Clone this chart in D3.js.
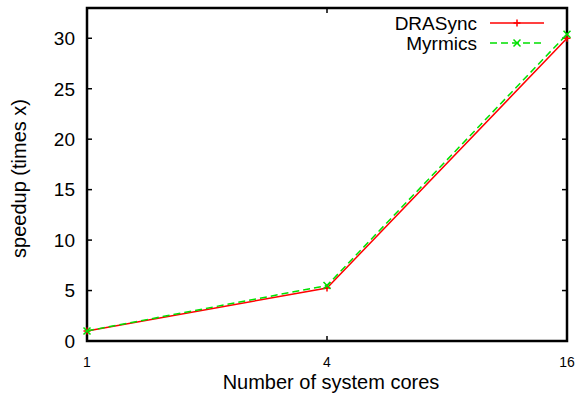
<!DOCTYPE html>
<html>
<head>
<meta charset="utf-8">
<script src="https://cdn.jsdelivr.net/npm/d3@7"></script>
<style>
  body { margin: 0; background: #fff; }
  text { font-family: "Liberation Sans", Arial, sans-serif; fill: #000; }
</style>
</head>
<body>
<div id="chart"></div>
<script>
// data
var cores = [1, 4, 16];
var drasync = [1, 5.25, 30.0];
var myrmics = [1, 5.5, 30.4];
var xTicks = [1, 4, 16];
var yTicks = [0, 5, 10, 15, 20, 25, 30];
var seriesNames = ["DRASync", "Myrmics"];

var width = 576, height = 405,
    margin = {top: 8, right: 9, bottom: 64, left: 87},
    tick_len = 5;

var svg = d3.select("#chart").append("svg")
    .attr("width", width)
    .attr("height", height);

var x = d3.scaleLog().base(2)
    .domain([1, 16])
    .range([margin.left, width - margin.right]);

var y = d3.scaleLinear()
    .domain([0, 33])
    .range([height - margin.bottom, margin.top]);

var x0 = x.range()[0], x1 = x.range()[1],
    y0 = y.range()[0], y1 = y.range()[1];

// y ticks, both sides, pointing inward
var yAxis = svg.append("g");
yTicks.forEach(function(v) {
    if (v > 0) {
        yAxis.append("line").attr("x1", x0).attr("x2", x0 + tick_len)
            .attr("y1", y(v)).attr("y2", y(v)).attr("stroke", "#000").attr("stroke-width", 1.5);
        yAxis.append("line").attr("x1", x1).attr("x2", x1 - tick_len)
            .attr("y1", y(v)).attr("y2", y(v)).attr("stroke", "#000").attr("stroke-width", 1.5);
    }
    yAxis.append("text")
        .attr("x", x0 - 12)
        .attr("y", y(v))
        .attr("dy", "0.36em")
        .attr("text-anchor", "end")
        .style("font-size", "19px")
        .text(v);
});

// x ticks, bottom and top
var xAxis = svg.append("g");
xTicks.forEach(function(v) {
    xAxis.append("line").attr("x1", x(v)).attr("x2", x(v))
        .attr("y1", y0).attr("y2", y0 - tick_len).attr("stroke", "#000").attr("stroke-width", 1.5);
    xAxis.append("line").attr("x1", x(v)).attr("x2", x(v))
        .attr("y1", y1).attr("y2", y1 + tick_len).attr("stroke", "#000").attr("stroke-width", 1.5);
    xAxis.append("text")
        .attr("x", x(v))
        .attr("y", 367)
        .attr("text-anchor", "middle")
        .style("font-size", "14px")
        .text(v);
});

// frame
svg.append("rect")
    .attr("x", x0).attr("y", y1)
    .attr("width", x1 - x0).attr("height", y0 - y1)
    .attr("fill", "none").attr("stroke", "#000").attr("stroke-width", 2.5);

// axis titles
svg.append("text")
    .attr("x", (x0 + x1) / 2 + 4)
    .attr("y", 389)
    .attr("text-anchor", "middle")
    .style("font-size", "20px")
    .text("Number of system cores");

svg.append("text")
    .attr("transform", "translate(26," + ((y0 + y1) / 2 + 4) + ") rotate(-90)")
    .attr("text-anchor", "middle")
    .style("font-size", "20px")
    .text("speedup (times x)");

// series
var series = [
    {name: seriesNames[0], values: drasync, color: "#ff0000", dash: null, mark: "plus"},
    {name: seriesNames[1], values: myrmics, color: "#00e000", dash: "7,4", mark: "cross"}
];

var line = d3.line()
    .x(function(d) { return x(d[0]); })
    .y(function(d) { return y(d[1]); });

function drawMark(g, mark, cx, cy, color) {
    var s = 3.5;
    if (mark === "plus") {
        g.append("path").attr("d", "M" + (cx - s) + "," + cy + "H" + (cx + s) + "M" + cx + "," + (cy - s) + "V" + (cy + s))
            .attr("stroke", color).attr("stroke-width", 1.5).attr("fill", "none");
    } else {
        g.append("path").attr("d", "M" + (cx - s) + "," + (cy - s) + "L" + (cx + s) + "," + (cy + s) +
                "M" + (cx - s) + "," + (cy + s) + "L" + (cx + s) + "," + (cy - s))
            .attr("stroke", color).attr("stroke-width", 1.5).attr("fill", "none");
    }
}

var legendY = [23, 43];

series.forEach(function(s, i) {
    var pts = cores.map(function(c, j) { return [c, s.values[j]]; });
    var g = svg.append("g");
    g.append("path")
        .attr("d", line(pts))
        .attr("fill", "none")
        .attr("stroke", s.color)
        .attr("stroke-width", 1.5)
        .attr("stroke-dasharray", s.dash);
    pts.forEach(function(p) { drawMark(g, s.mark, x(p[0]), y(p[1]), s.color); });

    // legend entry
    var lg = svg.append("g");
    lg.append("text")
        .attr("x", 477)
        .attr("y", legendY[i])
        .attr("dy", "0.36em")
        .attr("text-anchor", "end")
        .style("font-size", "19px")
        .text(s.name);
    lg.append("line")
        .attr("x1", 490).attr("x2", 544)
        .attr("y1", legendY[i]).attr("y2", legendY[i])
        .attr("stroke", s.color).attr("stroke-width", 1.5)
        .attr("stroke-dasharray", s.dash);
    drawMark(lg, s.mark, 517, legendY[i], s.color);
});
</script>
</body>
</html>
